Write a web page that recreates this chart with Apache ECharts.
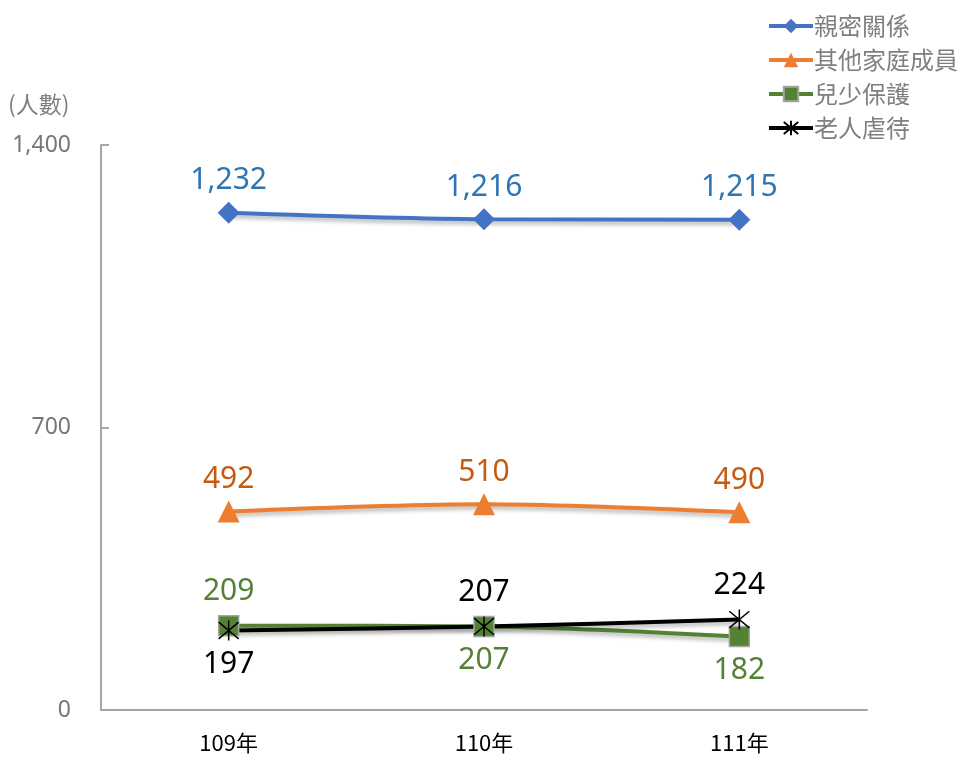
<!DOCTYPE html>
<html>
<head>
<meta charset="utf-8">
<script src="https://cdn.jsdelivr.net/npm/echarts@6/dist/echarts.min.js"></script>
<style>
  html, body { margin: 0; padding: 0; background: #fff; }
  #chart { width: 965px; height: 758px; }
</style>
</head>
<body>
<div id="chart"></div>
<script>
const years = ["109年", "110年", "111年"];
const intimate = [1232, 1216, 1215];
const otherFamily = [492, 510, 490];
const childProtect = [209, 207, 182];
const elderAbuse = [197, 207, 224];
const yTicks = [0, 700, 1400];

const font = "'Noto Sans', 'Noto Sans CJK TC', sans-serif";
const cjk = "'Noto Sans CJK TC', sans-serif";
const star = "path://M0,0 L10,10 M10,0 L0,10 M5,-1 L5,11";
const shadow = { shadowColor: "rgba(0,0,0,0.3)", shadowBlur: 4, shadowOffsetY: 3 };

var mychart = echarts.init(document.getElementById("chart"));

var option = {
  animation: false,
  textStyle: { fontFamily: font },
  grid: { left: 101, right: 98, top: 145, bottom: 48 },
  legend: {
    orient: "vertical",
    right: 2,
    top: 9,
    itemWidth: 44,
    itemHeight: 18,
    itemGap: 10,
    lineStyle: { width: 4, shadowBlur: 0, shadowOffsetY: 0 },
    textStyle: { fontSize: 24, color: "#7f7f7f", fontFamily: cjk, padding: [0, 0, 0, -4] },
    data: ["親密關係", "其他家庭成員", "兒少保護", "老人虐待"],
  },
  graphic: [
    {
      type: "text",
      left: 8,
      top: 93,
      style: { text: "(人數)", fontSize: 23, fill: "#7f7f7f", fontFamily: cjk },
    },
  ],
  xAxis: {
    type: "category",
    data: years,
    axisLine: { lineStyle: { color: "#a6a6a6", width: 2 } },
    axisTick: { inside: true, length: 8, lineStyle: { color: "#a6a6a6", width: 2 } },
    axisLabel: { margin: 22, fontSize: 22, color: "#000", fontFamily: cjk },
  },
  yAxis: {
    type: "value",
    min: yTicks[0],
    max: yTicks[2],
    interval: yTicks[1],
    splitLine: { show: false },
    axisLine: { show: true, lineStyle: { color: "#a6a6a6", width: 2 } },
    axisTick: { show: true, inside: true, length: 8, lineStyle: { color: "#a6a6a6", width: 2 } },
    axisLabel: {
      margin: 30,
      fontSize: 23,
      color: "#767676",
      formatter: (v) => v.toLocaleString("en-US"),
    },
  },
  series: [
    {
      name: "親密關係",
      type: "line",
      data: intimate,
      smooth: 0.3,
      symbol: "diamond",
      symbolSize: 22,
      itemStyle: { color: "#4472c4" },
      lineStyle: Object.assign({ color: "#4472c4", width: 4 }, shadow),
      label: {
        show: true,
        position: "top",
        distance: 6,
        fontSize: 30,
        color: "#2e75b6",
        formatter: (p) => p.value.toLocaleString("en-US"),
      },
    },
    {
      name: "其他家庭成員",
      type: "line",
      data: otherFamily,
      smooth: 0.3,
      symbol: "triangle",
      symbolSize: 22,
      itemStyle: { color: "#ed7d31" },
      lineStyle: Object.assign({ color: "#ed7d31", width: 4 }, shadow),
      label: { show: true, position: "top", distance: 6, fontSize: 30, color: "#c55a11" },
    },
    {
      name: "兒少保護",
      type: "line",
      data: [
        { value: childProtect[0], label: { position: "top" } },
        { value: childProtect[1], label: { position: "bottom" } },
        { value: childProtect[2], label: { position: "bottom" } },
      ],
      smooth: 0.3,
      symbol: "rect",
      symbolSize: 20,
      itemStyle: { color: "#548235", borderColor: "#a5a5a5", borderWidth: 1.5 },
      lineStyle: Object.assign({ color: "#548235", width: 4 }, shadow),
      label: { show: true, distance: 8, fontSize: 30, color: "#548235" },
    },
    {
      name: "老人虐待",
      type: "line",
      data: [
        { value: elderAbuse[0], label: { position: "bottom" } },
        { value: elderAbuse[1], label: { position: "top" } },
        { value: elderAbuse[2], label: { position: "top" } },
      ],
      smooth: 0.3,
      symbol: star,
      symbolSize: 20,
      itemStyle: { color: "transparent", borderColor: "#000", borderWidth: 1.5 },
      lineStyle: Object.assign({ color: "#000", width: 4 }, shadow),
      label: { show: true, distance: 8, fontSize: 30, color: "#000" },
    },
  ],
};

mychart.setOption(option);
</script>
</body>
</html>
